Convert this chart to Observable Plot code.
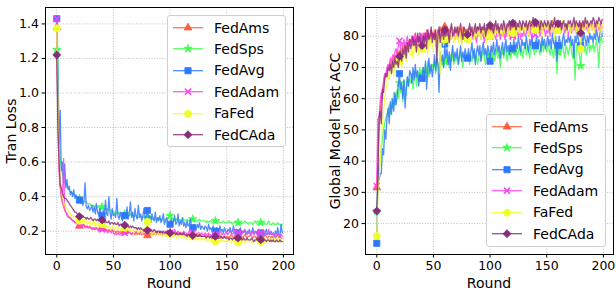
<!DOCTYPE html>
<html><head><meta charset="utf-8">
<script src="https://cdn.jsdelivr.net/npm/d3@7"></script>
<script src="https://cdn.jsdelivr.net/npm/@observablehq/plot@0.6"></script>
<style>
body{margin:0;background:#fff;font-family:"DejaVu Sans",sans-serif;color:#000;}
#root{position:relative;width:616px;height:293px;overflow:hidden;background:#fff;}
.panel{position:absolute;top:0;}
.legend{position:absolute;border:1px solid #cfcfcf;border-radius:3px;background:rgba(255,255,255,0.85);box-sizing:border-box;padding-top:1px;}
.row{display:flex;align-items:center;height:21.4px;font-size:14px;line-height:14px;}
.row svg{flex:none;}
.xlabel{position:absolute;font-size:14px;line-height:14px;text-align:center;width:200px;}
.ylabel{position:absolute;font-size:14px;line-height:14px;text-align:center;width:240px;height:14px;white-space:nowrap;transform:rotate(-90deg);}
</style></head><body><div id="root"></div>
<script>
const seriesNames = ["FedAms","FedSps","FedAvg","FedAdam","FaFed","FedCAda"];
const seriesColors = ["#ff5f3c","#3cff4e","#2f78ff","#ff3ff0","#eeff2e","#882d7c"];
const seriesSymbols = ["triangle","star","square","times","circle","diamond2"];
const symbolRadius = {triangle:2.9, star:2.6, square:3.5, times:2.9, circle:3.5, diamond2:3.6};
const xTicks = [0,50,100,150,200];
const lossTicks = [0.2,0.4,0.6,0.8,1.0,1.2,1.4];
const accTicks = [20,30,40,50,60,70,80];

// Training loss per round (0..199)
const lossFedAms = [
1.38,0.90,0.60,0.47,0.40,0.37,0.34,0.32,0.31,0.30,
0.29,0.28,0.28,0.27,0.26,0.26,0.25,0.25,0.24,0.24,
0.23,0.24,0.23,0.23,0.24,0.22,0.23,0.22,0.22,0.23,
0.22,0.22,0.21,0.22,0.21,0.22,0.21,0.21,0.22,0.21,
0.22,0.21,0.21,0.20,0.21,0.20,0.21,0.20,0.20,0.21,
0.20,0.20,0.19,0.20,0.20,0.19,0.20,0.19,0.19,0.20,
0.20,0.19,0.19,0.20,0.19,0.19,0.18,0.19,0.19,0.18,
0.19,0.18,0.19,0.18,0.19,0.18,0.18,0.19,0.18,0.18,
0.175,0.18,0.18,0.19,0.18,0.18,0.19,0.18,0.18,0.19,
0.18,0.19,0.18,0.18,0.19,0.18,0.19,0.19,0.18,0.19,
0.19,0.18,0.19,0.18,0.18,0.19,0.18,0.18,0.19,0.18,
0.18,0.19,0.18,0.18,0.17,0.18,0.18,0.19,0.18,0.18,
0.18,0.17,0.18,0.18,0.17,0.18,0.17,0.18,0.17,0.17,
0.17,0.18,0.17,0.17,0.18,0.17,0.17,0.16,0.17,0.17,
0.17,0.16,0.17,0.17,0.18,0.17,0.16,0.17,0.17,0.16,
0.17,0.17,0.16,0.17,0.18,0.17,0.16,0.17,0.17,0.18,
0.17,0.16,0.17,0.17,0.16,0.17,0.18,0.17,0.16,0.17,
0.17,0.18,0.17,0.16,0.17,0.17,0.16,0.17,0.18,0.17,
0.17,0.16,0.17,0.17,0.18,0.17,0.16,0.17,0.17,0.16,
0.17,0.16,0.17,0.16,0.17,0.18,0.16,0.17,0.16,0.16];
const lossFedSps = [
1.25,1.27,0.75,0.62,0.57,0.53,0.50,0.48,0.47,0.46,
0.45,0.44,0.43,0.42,0.42,0.41,0.41,0.40,0.40,0.39,
0.39,0.39,0.38,0.38,0.37,0.37,0.37,0.36,0.36,0.36,
0.35,0.35,0.35,0.34,0.35,0.34,0.34,0.34,0.33,0.34,
0.34,0.33,0.33,0.33,0.32,0.33,0.32,0.32,0.32,0.31,
0.31,0.31,0.31,0.30,0.31,0.30,0.30,0.30,0.30,0.29,
0.30,0.30,0.29,0.29,0.29,0.30,0.29,0.29,0.28,0.29,
0.29,0.28,0.28,0.28,0.29,0.28,0.28,0.28,0.27,0.28,
0.28,0.28,0.27,0.28,0.27,0.27,0.28,0.27,0.27,0.27,
0.28,0.27,0.27,0.27,0.26,0.27,0.27,0.27,0.27,0.28,
0.29,0.27,0.27,0.27,0.26,0.27,0.27,0.26,0.26,0.27,
0.26,0.27,0.27,0.26,0.26,0.27,0.26,0.26,0.27,0.26,
0.27,0.26,0.26,0.26,0.26,0.26,0.27,0.26,0.26,0.26,
0.26,0.26,0.25,0.26,0.25,0.26,0.26,0.25,0.25,0.26,
0.26,0.25,0.25,0.26,0.25,0.25,0.25,0.26,0.25,0.25,
0.25,0.25,0.26,0.25,0.25,0.24,0.25,0.25,0.25,0.26,
0.25,0.25,0.25,0.24,0.25,0.25,0.26,0.25,0.25,0.24,
0.25,0.25,0.25,0.24,0.25,0.26,0.25,0.24,0.24,0.25,
0.25,0.25,0.24,0.25,0.24,0.24,0.25,0.26,0.24,0.24,
0.24,0.25,0.24,0.24,0.24,0.25,0.24,0.24,0.23,0.24];
const lossFedAvg = [
1.43,1.10,0.70,0.90,0.55,0.60,0.48,0.59,0.45,0.50,
0.44,0.46,0.41,0.43,0.40,0.44,0.39,0.41,0.38,0.40,
0.38,0.36,0.39,0.35,0.37,0.48,0.34,0.33,0.35,0.32,
0.33,0.35,0.31,0.34,0.30,0.36,0.31,0.29,0.33,0.30,
0.29,0.32,0.28,0.38,0.30,0.29,0.40,0.31,0.27,0.33,
0.29,0.30,0.28,0.39,0.29,0.27,0.31,0.28,0.26,0.30,
0.29,0.28,0.34,0.27,0.30,0.37,0.28,0.31,0.26,0.33,
0.29,0.27,0.35,0.28,0.30,0.26,0.29,0.33,0.27,0.28,
0.32,0.27,0.29,0.25,0.30,0.27,0.26,0.31,0.25,0.28,
0.26,0.29,0.25,0.27,0.30,0.24,0.26,0.28,0.24,0.25,
0.24,0.27,0.23,0.26,0.29,0.24,0.25,0.30,0.23,0.26,
0.24,0.28,0.23,0.25,0.22,0.26,0.23,0.24,0.27,0.22,
0.22,0.24,0.23,0.21,0.24,0.22,0.25,0.21,0.23,0.22,
0.21,0.23,0.22,0.20,0.24,0.21,0.22,0.20,0.23,0.21,
0.20,0.22,0.21,0.19,0.23,0.20,0.21,0.19,0.22,0.20,
0.19,0.21,0.20,0.22,0.19,0.20,0.23,0.19,0.20,0.21,
0.19,0.20,0.22,0.18,0.20,0.19,0.21,0.18,0.20,0.19,
0.21,0.18,0.19,0.22,0.18,0.20,0.19,0.18,0.21,0.19,
0.19,0.18,0.20,0.18,0.19,0.21,0.18,0.19,0.18,0.20,
0.18,0.19,0.17,0.20,0.18,0.22,0.18,0.17,0.24,0.19];
const lossFedAdam = [
1.43,0.85,0.55,0.45,0.40,0.36,0.62,0.33,0.31,0.29,
0.28,0.28,0.27,0.27,0.26,0.26,0.25,0.25,0.25,0.24,
0.24,0.24,0.23,0.24,0.23,0.23,0.22,0.23,0.22,0.22,
0.22,0.21,0.22,0.21,0.21,0.22,0.21,0.20,0.21,0.20,
0.21,0.20,0.20,0.21,0.20,0.19,0.20,0.20,0.19,0.20,
0.19,0.18,0.19,0.18,0.19,0.18,0.18,0.19,0.18,0.18,
0.19,0.18,0.19,0.19,0.20,0.19,0.18,0.19,0.19,0.20,
0.19,0.20,0.19,0.19,0.20,0.19,0.20,0.20,0.19,0.20,
0.20,0.19,0.20,0.20,0.19,0.20,0.19,0.19,0.20,0.19,
0.19,0.20,0.19,0.18,0.19,0.19,0.20,0.19,0.18,0.19,
0.19,0.20,0.19,0.19,0.21,0.19,0.19,0.20,0.19,0.19,
0.19,0.18,0.20,0.19,0.19,0.18,0.19,0.20,0.19,0.18,
0.19,0.18,0.18,0.19,0.18,0.19,0.19,0.18,0.19,0.18,
0.18,0.19,0.18,0.18,0.19,0.18,0.18,0.17,0.18,0.19,
0.18,0.19,0.18,0.18,0.20,0.19,0.18,0.19,0.18,0.19,
0.19,0.18,0.19,0.20,0.19,0.18,0.19,0.21,0.19,0.18,
0.19,0.20,0.19,0.18,0.19,0.20,0.21,0.19,0.18,0.19,
0.19,0.18,0.20,0.19,0.18,0.19,0.20,0.18,0.19,0.20,
0.19,0.18,0.19,0.20,0.19,0.18,0.19,0.21,0.18,0.19,
0.18,0.19,0.18,0.17,0.18,0.19,0.18,0.17,0.18,0.17];
const lossFaFed = [
1.375,0.95,0.62,0.50,0.44,0.40,0.37,0.35,0.34,0.33,
0.32,0.31,0.30,0.29,0.29,0.28,0.28,0.27,0.27,0.26,
0.26,0.27,0.25,0.26,0.27,0.25,0.26,0.24,0.25,0.26,
0.24,0.25,0.24,0.26,0.23,0.24,0.25,0.23,0.24,0.23,
0.24,0.23,0.22,0.24,0.23,0.22,0.23,0.22,0.21,0.23,
0.22,0.21,0.22,0.23,0.21,0.22,0.21,0.20,0.22,0.21,
0.22,0.20,0.21,0.22,0.20,0.21,0.20,0.21,0.19,0.20,
0.21,0.20,0.19,0.20,0.21,0.19,0.20,0.22,0.19,0.20,
0.255,0.20,0.19,0.20,0.18,0.19,0.20,0.18,0.19,0.18,
0.19,0.18,0.19,0.17,0.18,0.19,0.17,0.18,0.17,0.18,
0.18,0.17,0.18,0.17,0.18,0.17,0.16,0.17,0.18,0.17,
0.16,0.17,0.17,0.16,0.17,0.16,0.17,0.16,0.15,0.16,
0.17,0.16,0.15,0.16,0.17,0.15,0.16,0.15,0.16,0.15,
0.16,0.15,0.16,0.14,0.15,0.16,0.14,0.15,0.14,0.15,
0.14,0.15,0.14,0.15,0.14,0.16,0.14,0.15,0.14,0.14,
0.15,0.14,0.15,0.14,0.13,0.15,0.14,0.15,0.14,0.14,
0.135,0.14,0.15,0.14,0.14,0.15,0.13,0.14,0.15,0.14,
0.14,0.15,0.14,0.13,0.15,0.14,0.15,0.14,0.13,0.14,
0.14,0.15,0.14,0.15,0.13,0.14,0.15,0.14,0.16,0.14,
0.15,0.14,0.16,0.14,0.15,0.16,0.14,0.15,0.14,0.15];
const lossFedCAda = [
1.22,0.80,0.60,0.47,0.45,0.42,0.40,0.39,0.39,0.38,
0.37,0.36,0.35,0.34,0.33,0.32,0.31,0.31,0.30,0.29,
0.285,0.29,0.28,0.29,0.28,0.28,0.27,0.28,0.27,0.27,
0.28,0.27,0.26,0.27,0.27,0.26,0.27,0.26,0.26,0.27,
0.265,0.26,0.25,0.26,0.25,0.25,0.26,0.24,0.25,0.25,
0.24,0.25,0.24,0.24,0.25,0.23,0.24,0.24,0.23,0.24,
0.235,0.23,0.24,0.23,0.22,0.23,0.22,0.23,0.22,0.22,
0.22,0.21,0.22,0.21,0.22,0.21,0.21,0.20,0.21,0.21,
0.205,0.21,0.20,0.21,0.20,0.20,0.21,0.20,0.19,0.20,
0.20,0.19,0.20,0.19,0.20,0.19,0.19,0.20,0.19,0.19,
0.19,0.19,0.18,0.19,0.19,0.18,0.19,0.18,0.18,0.19,
0.18,0.18,0.19,0.18,0.18,0.17,0.18,0.18,0.17,0.18,
0.175,0.18,0.17,0.18,0.17,0.17,0.18,0.17,0.17,0.17,
0.17,0.17,0.16,0.17,0.17,0.16,0.17,0.17,0.16,0.17,
0.17,0.16,0.17,0.16,0.16,0.17,0.16,0.16,0.17,0.16,
0.16,0.16,0.15,0.16,0.16,0.15,0.16,0.16,0.15,0.16,
0.16,0.15,0.16,0.15,0.15,0.16,0.15,0.15,0.16,0.15,
0.15,0.15,0.16,0.15,0.14,0.15,0.15,0.16,0.15,0.15,
0.15,0.15,0.14,0.15,0.15,0.14,0.15,0.15,0.14,0.15,
0.14,0.15,0.14,0.14,0.15,0.14,0.14,0.15,0.14,0.14];

// Global model test accuracy per round (0..199)
const accFedAms = [
31.5,40,50,56,60,63,65,67,68,69,
70,71,72,70,73,72,74,73,75,74,
74,76,75,77,76,78,75,78,77,79,
78,80,77,79,81,78,80,79,81,80,
78,81,80,79,82,80,81,79,82,81,
80,82,79,81,82,80,83,81,80,82,
83,81,82,80,82,81,83,82,80,82,
81,82,83,81,82,80,83,82,81,82,
81,82,83,81,80,82,83,81,82,83,
82,81,83,82,80,83,82,81,83,82,
82,83,81,82,84,82,81,83,82,83,
82,83,81,84,82,83,82,81,83,84,
83,82,84,83,82,84,83,82,84,83,
82,84,83,82,84,83,82,84,83,84,
83,82,84,83,85,82,84,83,82,84,
83,84,82,84,83,85,83,82,84,83,
83,84,82,83,84,83,82,84,83,84,
83,82,84,83,84,82,83,84,83,82,
83,84,82,83,84,83,82,84,83,84,
83,84,82,84,83,84,82,83,84,84];
const accFedSps = [
24,30,36,40,44,47,50,52,54,55,
56,58,55,60,57,62,58,61,63,60,
65,62,64,59,66,63,61,67,64,66,
65,68,63,67,69,64,68,66,70,67,
68,70,66,71,68,72,67,70,69,71,
70,72,68,73,71,69,74,71,72,70,
72,74,71,73,70,74,72,75,71,73,
72,74,71,73,75,72,70,74,73,72,
73,75,71,74,72,73,75,72,74,71,
73,75,72,74,76,73,71,75,74,72,
74,76,73,75,72,74,76,73,75,70,
74,76,73,75,77,72,74,76,73,75,
75,77,74,76,73,75,77,74,76,73,
76,78,74,77,75,73,77,76,78,74,
77,75,78,76,74,77,79,75,77,76,
75,78,76,74,77,75,73,77,76,68,
75,77,74,76,78,75,73,77,76,74,
76,78,75,73,77,66,75,78,76,74,
70.5,76,78,75,77,74,76,79,75,77,
76,78,75,77,79,76,70,78,80,78];
const accFedAvg = [
13.7,39,34,36,36,44,42,50,47,54,
57,52,59,55,60,56,62,58,61,64,
68,63,65,60,66,57,63,67,64,69,
68,65,70,66,71,67,69,64,68,66,
66.5,70,67,72,63,69,73,68,71,67,
70,74,69,73,71,62,75,72,74,70,
77.5,73,76,71,75,69,74,77,72,75,
73,76,71,74,77,72,75,73,76,74,
73,76,72,75,78,73,76,71,75,77,
74,77,72,76,78,74,76,73,77,75,
72,77,75,78,74,76,79,75,77,73,
76,78,74,77,79,75,77,74,78,76,
76,79,75,78,76,80,77,75,79,77,
78,76,80,77,75,79,77,80,76,78,
77,80,76,79,78,75,80,77,79,76,
78,80,77,79,76,81,78,77,80,72,
77,80,78,76,79,81,77,79,78,80,
78,80,77,79,73,80,78,81,79,77,
77,80,78,81,79,77,80,78,81,79,
80,78,81,79,82,80,78,81,83,80];
const accFedAdam = [
32,53.5,54,59,62,60,66,68,67,70,
71,70,73,72,74,73,75,76,74,77,
78.5,76,78,77,79,76,78,80,77,79,
78,80,77,79,81,78,80,79,77,81,
80,78,81,79,80,82,78,80,79,81,
79,81,80,78,82,80,79,81,80,78,
81,79,80,82,78,81,79,80,82,79,
80,81,79,82,80,78,81,80,79,81,
80,79,81,80,82,79,81,80,78,81,
80,82,79,81,80,78,82,80,79,81,
80,81,79,82,80,79,81,80,82,79,
81,80,82,79,81,80,82,81,79,82,
80,81,79,82,81,80,82,79,81,80,
82,80,81,83,80,82,81,79,82,81,
80.5,82,81,83,80,82,81,83,82,80,
82,81,83,80,82,84,81,82,83,81,
82,83,81,82,84,82,81,83,82,80,
82,83,81,84,82,83,81,82,84,82,
82,83,81,84,82,83,82,81,84,83,
82,84,83,81,84,82,83,84,82,83];
const accFaFed = [
16,30,35,40,46,52,56,60,63,65,
68,66,70,69,71,67,72,70,73,71,
72,74,70,75,73,76,72,74,77,75,
74,77,73,76,78,75,77,74,78,76,
76,78,75,79,77,74,79,77,80,76,
78,80,77,79,81,78,68,80,79,77,
79,81,78,80,77,81,79,82,78,80,
79,81,78,82,80,77,81,79,82,80,
79,82,80,78,81,83,79,81,80,82,
80,82,79,81,83,80,82,78,81,83,
80,82,81,79,83,81,82,80,83,81,
82,80,83,81,84,82,80,83,81,84,
81,83,82,80,84,82,81,83,84,82,
83,81,84,82,80,83,85,82,81,84,
82,84,81,83,85,82,80,84,83,82,
84,82,85,83,81,84,82,79,83,84,
82,84,81,83,85,82,84,83,81,84,
83,81,84,82,85,83,81,84,82,83,
76,83,81,84,82,85,83,81,84,83,
82,84,81,83,85,82,84,83,81,84];
const accFedCAda = [
24,34,54,56,52,63,62,66,68,67,
70,69,71,68,72,70,73,71,72,70,
73.5,75,72,76,74,77,73,78,75,79,
76,78,80,77,79,75,81,78,80,76,
77,80,78,81,76,82,79,80,83,78,
81,79,82,72,80,83,78,81,82,79,
82,80,83,81,78,82,84,80,81,83,
81,83,80,82,84,81,79,83,82,80,
80.5,82,84,81,83,80,82,84,81,83,
82,84,81,83,82,84,80,83,82,84,
83.5,82,84,81,83,85,82,84,81,83,
84,82,85,83,81,84,83,85,82,84,
84.2,83,85,82,84,83,85,84,82,85,
84,83,85,82,84,85,83,84,86,83,
84.5,83,85,84,82,85,84,83,85,84,
83,85,84,82,85,83,84,86,83,85,
84,83,85,82,84,85,83,84,82,85,
84,85,83,84,86,83,85,84,83,85,
81,84,85,83,86,84,85,83,84,85,
84,86,85,83,85,84,86,85,84,85.5];

const lossSeries = [lossFedAms,lossFedSps,lossFedAvg,lossFedAdam,lossFaFed,lossFedCAda];
const accSeries = [accFedAms,accFedSps,accFedAvg,accFedAdam,accFaFed,accFedCAda];

const root = document.getElementById("root");
const FONT = "DejaVu Sans";

function panel(seriesValues, opts) {
  const marks = [
    Plot.gridX(xTicks, {stroke:"#b0b0b0", strokeOpacity:1, strokeWidth:0.8, strokeDasharray:"1,1.6"}),
    Plot.gridY(opts.yTicks, {stroke:"#b0b0b0", strokeOpacity:1, strokeWidth:0.8, strokeDasharray:"1,1.6"})
  ];
  seriesNames.forEach((name, i) => {
    const data = seriesValues[i].map((v, r) => ({round: r, value: v}));
    const sym = seriesSymbols[i];
    marks.push(Plot.line(data, {x:"round", y:"value", stroke: seriesColors[i], strokeWidth:1.3, strokeOpacity:0.85}));
    marks.push(Plot.dot(data.filter(d => d.round % 20 === 0), {
      x:"round", y:"value", symbol: sym,
      fill: sym === "times" ? "none" : seriesColors[i],
      stroke: seriesColors[i], strokeWidth: sym === "times" ? 1.5 : 0.8,
      r: symbolRadius[sym]
    }));
  });
  marks.push(Plot.frame({stroke:"black", strokeWidth:1}));
  marks.push(Plot.axisX({ticks: xTicks, tickSize:3.5, tickPadding:3, fontSize:12.5, label:null}));
  marks.push(Plot.axisY({ticks: opts.yTicks, tickSize:3.5, tickPadding:3, fontSize:12.5, label:null, tickFormat: opts.tickFormat}));
  const svg = Plot.plot({
    width: opts.width, height: 293,
    marginLeft: opts.ml, marginRight: opts.mr, marginTop: 7, marginBottom: 39,
    x: {domain: [-9.95, 208.95]},
    y: {domain: opts.yDomain},
    style: {fontFamily: FONT, color: "black", background: "transparent", overflow: "visible"},
    marks
  });
  svg.classList.add("panel");
  svg.style.left = opts.left + "px";
  root.appendChild(svg);
}

panel(lossSeries, {width:300, left:0, ml:45, mr:7, yDomain:[0.065, 1.495], yTicks: lossTicks, tickFormat: d3.format(".1f")});
panel(accSeries, {width:306, left:310, ml:55, mr:3, yDomain:[10.1, 89.2], yTicks: accTicks, tickFormat: d3.format("d")});

function label(text, cls, x, y) {
  const d = document.createElement("div");
  d.className = cls;
  d.textContent = text;
  root.appendChild(d);
  if (cls === "xlabel") { d.style.left = (x - 100) + "px"; d.style.top = y + "px"; }
  else { d.style.left = (x - 120) + "px"; d.style.top = (y - 7) + "px"; }
}
label("Round", "xlabel", 169, 276);
label("Round", "xlabel", 489, 276);
label("Tran Loss", "ylabel", 10.5, 130.5);
label("Global Model Test ACC", "ylabel", 334.5, 130.5);

const symbolScale = Plot.scale({symbol: {domain: seriesNames, range: seriesSymbols}});
function legend(x, y, w, h) {
  const box = document.createElement("div");
  box.className = "legend";
  Object.assign(box.style, {left: x + "px", top: y + "px", width: w + "px", height: h + "px"});
  seriesNames.forEach((name, i) => {
    const row = document.createElement("div");
    row.className = "row";
    const s = d3.create("svg").attr("width", 46).attr("height", 21.4);
    s.append("line").attr("x1", 5).attr("x2", 35).attr("y1", 10.7).attr("y2", 10.7)
      .attr("stroke", seriesColors[i]).attr("stroke-width", 1.3).attr("stroke-opacity", 0.85);
    const symName = seriesSymbols[i];
    const r = symbolRadius[symName];
    const times = symName === "times";
    s.append("path").attr("d", d3.symbol(symbolScale.apply(name), r * r * Math.PI)())
      .attr("transform", "translate(20,10.7)")
      .attr("fill", times ? "none" : seriesColors[i]).attr("stroke", seriesColors[i])
      .attr("stroke-width", times ? 1.5 : 0.8);
    row.appendChild(s.node());
    const t = document.createElement("span");
    t.textContent = name;
    row.appendChild(t);
    box.appendChild(row);
  });
  root.appendChild(box);
}
legend(167, 15, 119, 132);
legend(486, 114, 120, 133);
</script></body></html>
